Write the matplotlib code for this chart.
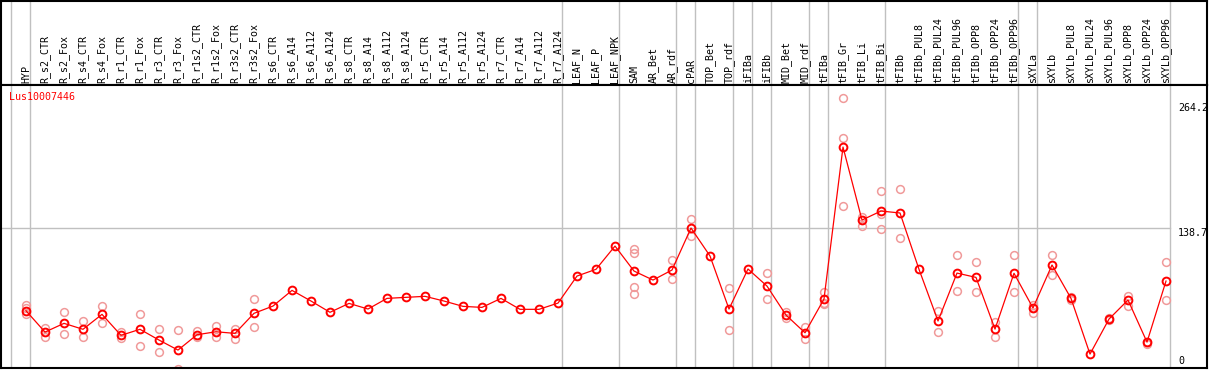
import matplotlib
matplotlib.use('Agg')
from matplotlib import pyplot as plt

gene = 'Lus10007446'

samples = ['HYP', 'R_s2_CTR', 'R_s2_Fox', 'R_s4_CTR', 'R_s4_Fox', 'R_r1_CTR', 'R_r1_Fox',
           'R_r3_CTR', 'R_r3_Fox', 'R_r1s2_CTR', 'R_r1s2_Fox', 'R_r3s2_CTR', 'R_r3s2_Fox',
           'R_s6_CTR', 'R_s6_A14', 'R_s6_A112', 'R_s6_A124', 'R_s8_CTR', 'R_s8_A14',
           'R_s8_A112', 'R_s8_A124', 'R_r5_CTR', 'R_r5_A14', 'R_r5_A112', 'R_r5_A124',
           'R_r7_CTR', 'R_r7_A14', 'R_r7_A112', 'R_r7_A124', 'LEAF_N', 'LEAF_P', 'LEAF_NPK',
           'SAM', 'AR_Bet', 'AR_rdf', 'cPAR', 'TOP_Bet', 'TOP_rdf', 'iFIBa', 'iFIBb',
           'MID_Bet', 'MID_rdf', 'tFIBa', 'tFIB_Gr', 'tFIB_Li', 'tFIB_Bi', 'tFIBb',
           'tFIBb_PUL8', 'tFIBb_PUL24', 'tFIBb_PUL96', 'tFIBb_OPP8', 'tFIBb_OPP24',
           'tFIBb_OPP96', 'sXYLa', 'sXYLb', 'sXYLb_PUL8', 'sXYLb_PUL24', 'sXYLb_PUL96',
           'sXYLb_OPP8', 'sXYLb_OPP24', 'sXYLb_OPP96']

means = [57.9, 37.1, 45.6, 39.8, 54.4, 33.9, 39.8, 29.3, 19.5, 34.5,
         37.4, 35.8, 55.4, 62.5, 77.8, 67.4, 56.4, 65.1, 59.6, 70.0,
         71.0, 72.0, 67.4, 62.2, 61.2, 70.0, 59.3, 59.3, 65.4, 91.8,
         98.4, 121.1, 96.7, 87.9, 97.7, 138.7, 111.4, 59.6, 98.7, 82.0,
         53.7, 36.4, 69.4, 217.8, 146.5, 155.3, 153.4, 98.4, 47.9, 94.7,
         90.5, 40.0, 94.5, 60.6, 102.6, 70.0, 15.6, 49.8, 68.4, 27.3,
         86.9]

reps = [[63.5, 60.9, 54.7], [40.7, 32.5], [56.4, 34.9], [47.9, 31.9], [62.5, 45.6],
        [37.4, 31.0], [54.4, 23.7], [39.8, 17.3], [39.1, 0.7], [38.4, 31.9],
        [43.3, 31.9], [40.3, 30.6], [69.1, 41.7], [], [], [], [], [], [], [],
        [], [], [], [], [], [], [], [], [], [],
        [], [], [118.5, 114.0, 80.8, 73.9], [], [107.1, 88.6], [147.2, 130.6], [],
        [79.8, 39.1], [], [94.7, 69.4],
        [56.9, 50.5], [42.3, 30.0], [76.5, 65.7, 64.5], [265.4, 226.3, 160.2],
        [149.7, 140.9], [174.8, 152.4, 137.4], [176.8, 128.6], [], [57.6, 37.4],
        [112.0, 76.9],
        [105.8, 75.9], [46.6, 32.5], [112.0, 76.5], [63.5, 60.6, 55.4], [112.0, 92.8],
        [71.3, 68.8], [], [50.8, 48.8], [72.3, 62.8], [27.3, 25.1],
        [105.2, 68.1]]

# separators drawn after these sample indices
separators = [-1, 0, 28, 31, 34, 35, 37, 38, 39, 41, 42, 45, 52, 53, 60]
scale_marks = [264.2, 138.7, 0]

W, H = 1209, 370
fig = plt.figure(figsize=(W / 100, H / 100), dpi=100)
ax_h = fig.add_axes([1 / W, 1 - 85 / H, 1206 / W, 84 / H])
ax = fig.add_axes([1 / W, 2 / H, 1206 / W, 283 / H], sharex=ax_h)

mono = 'DejaVu Sans Mono'
xlim = ((1 - 26) / 19, (1207 - 26) / 19)

for a in (ax_h, ax):
    a.set_xlim(*xlim)
    a.set_xticks([])
    a.set_yticks([])
    for s in a.spines.values():
        s.set_linewidth(1.5)
        s.set_color('black')
    for b in separators:
        a.axvline(b + 0.21, color='#c0c0c0', lw=1.0, zorder=0)

ax_h.set_ylim(0, 1)
for i, name in enumerate(samples):
    ax_h.text(i, 0.025, name, rotation=90, ha='center', va='bottom',
              fontsize=7.2, family=mono)

ax.set_ylim(2.0, 278.4)
ax.plot([xlim[0], separators[-1] + 0.21], [138.7, 138.7], color='#c0c0c0', lw=1.0, zorder=0)

rx = [i for i, r in enumerate(reps) for _ in r]
ry = [v for r in reps for v in r]
ax.plot(rx, ry, 'o', ms=5.6, mfc='none', mec='#f09a9a', mew=1.1, zorder=2)
ax.plot(range(len(means)), means, '-', color='red', lw=0.9, zorder=3)
ax.plot(range(len(means)), means, 'o', ms=5.6, mfc='none', mec='red', mew=1.4, zorder=4)

ax.text(-0.9, 266.7, gene, color='red', fontsize=7.2, family=mono, ha='left', va='center')
label_x = (1178 - 26) / 19
ax.text(label_x, scale_marks[0] - 3, '%.1f' % scale_marks[0], fontsize=7.2, family=mono,
        ha='left', va='top')
ax.text(label_x, scale_marks[1], '%.1f' % scale_marks[1], fontsize=7.2, family=mono,
        ha='left', va='top')
ax.text(label_x, 4, '%d' % scale_marks[2], fontsize=7.2, family=mono, ha='left', va='bottom')

plt.savefig('out.png', dpi=100)
